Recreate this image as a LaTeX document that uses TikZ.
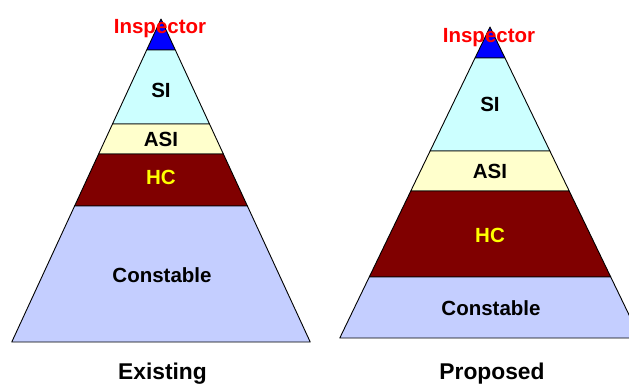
\documentclass[tikz,border=0pt]{standalone}
\usepackage{fontspec}
\setmainfont{Liberation Sans}
\definecolor{topblue}{HTML}{0000FF}
\definecolor{sicyan}{HTML}{CCFFFF}
\definecolor{asiyellow}{HTML}{FFFFCC}
\definecolor{hcmaroon}{HTML}{800000}
\definecolor{conblue}{HTML}{C4CEFF}
\definecolor{hcyellow}{HTML}{FFFF00}
\definecolor{insred}{HTML}{FF0000}
% one horizontal band of a pyramid: apex x, apex y, slope, top y, bottom y, fill
\newcommand{\pyrband}[6]{%
  \pgfmathsetmacro\wtop{#3*(#4-#2)}%
  \pgfmathsetmacro\wbot{#3*(#5-#2)}%
  \filldraw[band, fill=#6] (#1-\wtop,#4) -- (#1+\wtop,#4) -- (#1+\wbot,#5) -- (#1-\wbot,#5) -- cycle;}
\begin{document}
\begin{tikzpicture}[x=1pt, y=-1pt,
  band/.style={draw=black, line width=0.9pt, line join=round},
  lvl/.style={font=\bfseries\fontsize{20.5}{22}\selectfont, anchor=base, inner sep=0pt},
  title/.style={font=\bfseries\fontsize{22.8}{25}\selectfont, anchor=base, inner sep=0pt}]
  \useasboundingbox (0,0) rectangle (629,383);
  \clip (0,0) rectangle (629,383);
  % existing structure
  \pyrband{161}{19}{0.462}{19}{50}{topblue}
  \pyrband{161}{19}{0.462}{50}{124}{sicyan}
  \pyrband{161}{19}{0.462}{124}{154}{asiyellow}
  \pyrband{161}{19}{0.462}{154}{206}{hcmaroon}
  \pyrband{161}{19}{0.462}{206}{342}{conblue}
  \node[lvl, text=insred] (ins1) at (160,33) {Inspector};
  \node[lvl] (si1) at (161,97) {SI};
  \node[lvl] (asi1) at (161,146) {ASI};
  \node[lvl, text=hcyellow] (hc1) at (161,184) {HC};
  \node[lvl] (con1) at (162,282) {Constable};
  \node[title] (ex) at (162.5,379) {Existing};
  % proposed structure
  \pyrband{490}{27}{0.483}{27}{58}{topblue}
  \pyrband{490}{27}{0.483}{58}{151}{sicyan}
  \pyrband{490}{27}{0.483}{151}{191}{asiyellow}
  \pyrband{490}{27}{0.483}{191}{277}{hcmaroon}
  \pyrband{490}{27}{0.483}{277}{338}{conblue}
  \node[lvl, text=insred] (ins2) at (489,42) {Inspector};
  \node[lvl] (si2) at (490,111) {SI};
  \node[lvl] (asi2) at (490,178) {ASI};
  \node[lvl, text=hcyellow] (hc2) at (490,242) {HC};
  \node[lvl] (con2) at (491,315) {Constable};
  \node[title] (pr) at (492,379) {Proposed};
\end{tikzpicture}
\end{document}
